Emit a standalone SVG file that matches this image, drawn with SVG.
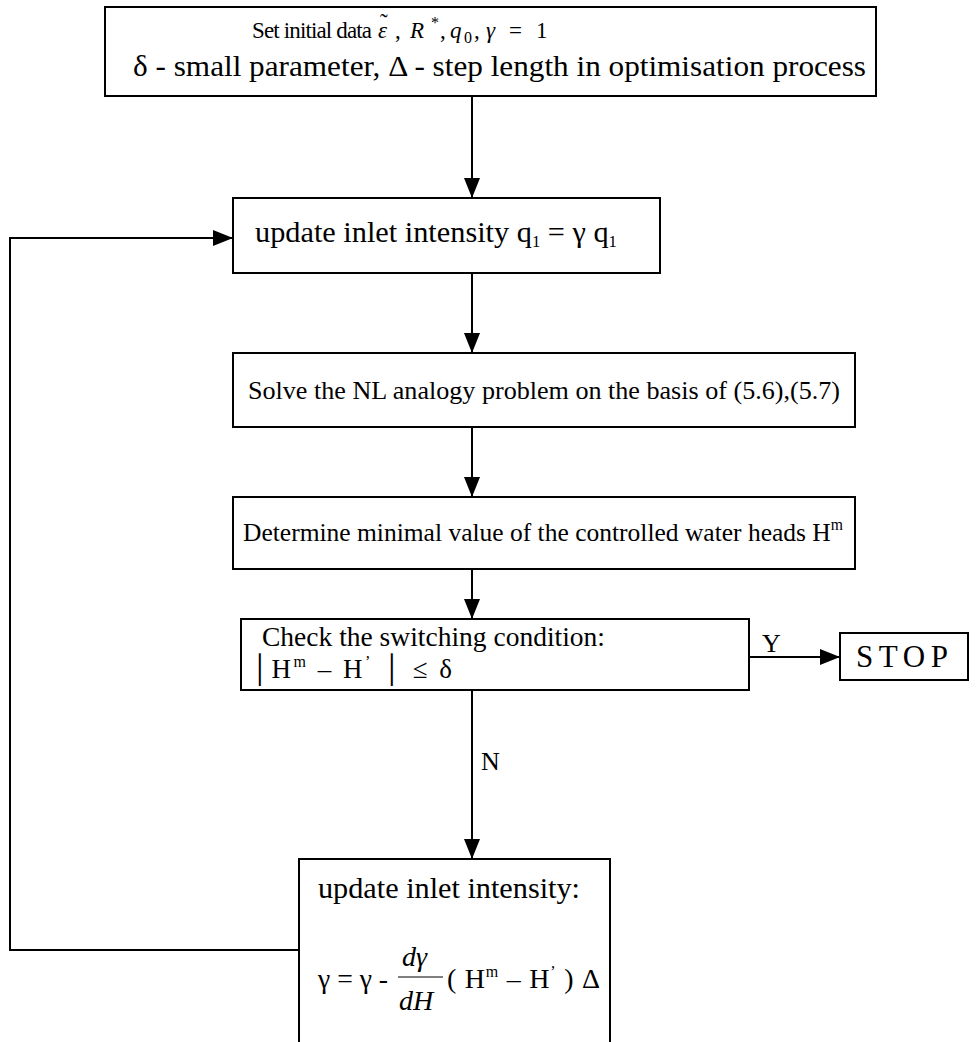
<svg xmlns="http://www.w3.org/2000/svg" width="977" height="1042" viewBox="0 0 977 1042">
<style>
.box{fill:#fff;stroke:#000;stroke-width:2}
.ln{fill:none;stroke:#000;stroke-width:2}
text{font-family:"Liberation Serif","Times New Roman",serif;font-size:26px;fill:#000}
.it{font-style:italic}
.sup{font-size:16px}
</style>
<defs>
<marker id="ah" viewBox="0 0 20 20" refX="20" refY="10" markerWidth="20" markerHeight="20" markerUnits="userSpaceOnUse" orient="auto">
<path d="M0,2 L20,10 L0,18 Z" fill="#000"/>
</marker>
</defs>
<g id="connectors">
<line class="ln" x1="472" y1="96" x2="472" y2="198" marker-end="url(#ah)"/>
<line class="ln" x1="472" y1="273" x2="472" y2="353" marker-end="url(#ah)"/>
<line class="ln" x1="472" y1="427" x2="472" y2="497" marker-end="url(#ah)"/>
<line class="ln" x1="472" y1="569" x2="472" y2="619" marker-end="url(#ah)"/>
<line class="ln" x1="749" y1="657" x2="840" y2="657" marker-end="url(#ah)"/>
<line class="ln" x1="472" y1="690" x2="472" y2="859" marker-end="url(#ah)"/>
<polyline class="ln" points="299,950 10,950 10,238 233,238" marker-end="url(#ah)"/>
<text x="762" y="652">Y</text>
<text x="481" y="770">N</text>
</g>
<g id="start">
<rect class="box" x="105" y="7" width="771" height="89"/>
<text x="252" y="38" style="font-size:23px"><tspan textLength="120" lengthAdjust="spacing">Set initial data</tspan><tspan class="it" x="378">ε</tspan><tspan x="380" dy="-8">˜</tspan><tspan x="395" dy="8">,</tspan><tspan class="it" x="410">R</tspan><tspan class="sup" x="431" dy="-10">*</tspan><tspan x="440" dy="10">,</tspan><tspan class="it" x="450">q</tspan><tspan class="sup" x="464" dy="5">0</tspan><tspan x="474" dy="-5">,</tspan><tspan class="it" x="486">γ</tspan><tspan x="509">=</tspan><tspan x="536">1</tspan></text>
<text x="133" y="76" style="font-size:30px" textLength="733" lengthAdjust="spacingAndGlyphs">δ - small parameter, Δ - step length in optimisation process</text>
</g>
<g id="update1">
<rect class="box" x="233" y="198" width="427" height="75"/>
<text x="255" y="242" style="font-size:29px" textLength="362" lengthAdjust="spacingAndGlyphs">update inlet intensity q<tspan class="sup" dy="5">1</tspan><tspan dy="-5"> = γ q</tspan><tspan class="sup" dy="5">1</tspan></text>
</g>
<g id="solve">
<rect class="box" x="233" y="353" width="622" height="74"/>
<text x="248" y="399" textLength="592" lengthAdjust="spacingAndGlyphs">Solve the NL analogy problem on the basis of (5.6),(5.7)</text>
</g>
<g id="determine">
<rect class="box" x="233" y="497" width="622" height="72"/>
<text x="243" y="541" textLength="600" lengthAdjust="spacingAndGlyphs">Determine minimal value of the controlled water heads H<tspan class="sup" dy="-11">m</tspan></text>
</g>
<g id="check">
<rect class="box" x="241" y="619" width="508" height="71"/>
<text x="262" y="646" style="font-size:27px" textLength="343" lengthAdjust="spacingAndGlyphs">Check the switching condition:</text>
<text x="250" y="678" style="font-size:27px" textLength="202" lengthAdjust="spacing">│H<tspan class="sup" dy="-11">m</tspan><tspan dy="11"> – H</tspan><tspan class="sup" dy="-11">’</tspan><tspan dy="11"> │ ≤ δ</tspan></text>
</g>
<g id="stop">
<rect class="box" x="840" y="633" width="128" height="47"/>
<text x="856" y="667" style="font-size:31px" textLength="92" lengthAdjust="spacing">STOP</text>
</g>
<g id="update2">
<rect class="box" x="299" y="859" width="311" height="200"/>
<text x="318" y="898" style="font-size:29px" textLength="262" lengthAdjust="spacingAndGlyphs">update inlet intensity:</text>
<text x="318" y="988" style="font-size:28px" textLength="70" lengthAdjust="spacingAndGlyphs">γ = γ -</text>
<text class="it" x="402" y="966" style="font-size:28px">dγ</text>
<line x1="398" y1="977" x2="443" y2="977" stroke="#000" stroke-width="1.2"/>
<text class="it" x="399" y="1010" style="font-size:28px">dH</text>
<text x="447" y="988" style="font-size:28px" textLength="153" lengthAdjust="spacing">( H<tspan class="sup" dy="-11">m</tspan><tspan dy="11"> – H</tspan><tspan class="sup" dy="-11">’</tspan><tspan dy="11"> ) Δ</tspan></text>
</g>
</svg>
